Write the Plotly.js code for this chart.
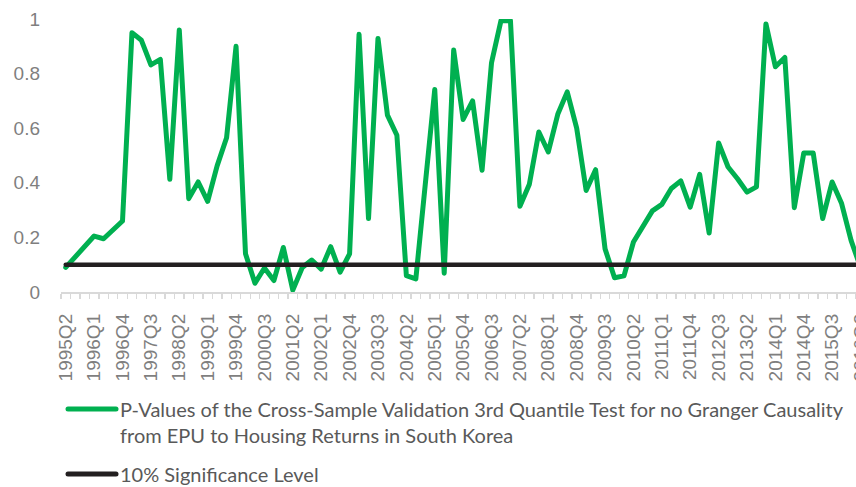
<!DOCTYPE html>
<html>
<head>
<meta charset="utf-8">
<script src="https://cdn.plot.ly/plotly-3.0.1.min.js"></script>
<style>
html, body { margin:0; padding:0; width:856px; height:487px; overflow:hidden; background:#fff; }
#chart { width:900px; height:487px; }
.js-line { stroke-linejoin: round; stroke-linecap: round; }
.shapelayer path { stroke-linecap: round; }
</style>
</head>
<body>
<div id="chart"></div>
<script>
const quarters = [
  '1995Q2','1995Q3','1995Q4','1996Q1','1996Q2','1996Q3','1996Q4',
  '1997Q1','1997Q2','1997Q3','1997Q4','1998Q1','1998Q2','1998Q3','1998Q4',
  '1999Q1','1999Q2','1999Q3','1999Q4','2000Q1','2000Q2','2000Q3','2000Q4',
  '2001Q1','2001Q2','2001Q3','2001Q4','2002Q1','2002Q2','2002Q3','2002Q4',
  '2003Q1','2003Q2','2003Q3','2003Q4','2004Q1','2004Q2','2004Q3','2004Q4',
  '2005Q1','2005Q2','2005Q3','2005Q4','2006Q1','2006Q2','2006Q3','2006Q4',
  '2007Q1','2007Q2','2007Q3','2007Q4','2008Q1','2008Q2','2008Q3','2008Q4',
  '2009Q1','2009Q2','2009Q3','2009Q4','2010Q1','2010Q2','2010Q3','2010Q4',
  '2011Q1','2011Q2','2011Q3','2011Q4','2012Q1','2012Q2','2012Q3','2012Q4',
  '2013Q1','2013Q2','2013Q3','2013Q4','2014Q1','2014Q2','2014Q3','2014Q4',
  '2015Q1','2015Q2','2015Q3','2015Q4','2016Q1','2016Q2'
];

const pValues = [
  0.09, 0.13, 0.168, 0.205, 0.195, 0.228, 0.26,
  0.95, 0.922, 0.832, 0.852, 0.413, 0.96, 0.342, 0.403,
  0.332, 0.462, 0.565, 0.90, 0.14, 0.032, 0.088, 0.042,
  0.163, 0.007, 0.09, 0.117, 0.084, 0.166, 0.073, 0.14,
  0.944, 0.269, 0.929, 0.648, 0.574, 0.06, 0.048, 0.40,
  0.742, 0.069, 0.886, 0.632, 0.70, 0.446, 0.84, 0.994,
  0.994, 0.314, 0.395, 0.586, 0.513, 0.651, 0.733, 0.60,
  0.372, 0.448, 0.158, 0.052, 0.059, 0.183, 0.238, 0.297,
  0.321, 0.379, 0.407, 0.311, 0.431, 0.216, 0.546, 0.458,
  0.415, 0.366, 0.385, 0.982, 0.825, 0.859, 0.309, 0.509,
  0.509, 0.269, 0.403, 0.324, 0.189, 0.09
];

const sigX = ['1995Q2', '2016Q2'];
const sigY = [0.1, 0.1];

const seriesNames = [
  'P-Values of the Cross-Sample Validation 3rd Quantile Test for no Granger Causality',
  'from EPU to Housing Returns in South Korea',
  '10% Significance Level'
];
const yTicks = [0, 0.2, 0.4, 0.6, 0.8, 1];

const GREEN = '#00B050';
const BLACK = '#231F20';
const TICK = '#7f7f7f';
const AXIS = '#d9d9d9';

const traces = [
  {
    x: quarters, y: pValues, type: 'scatter', mode: 'lines',
    line: { color: GREEN, width: 5 },
    xaxis: 'x', yaxis: 'y', name: seriesNames[0], showlegend: false,
    hoverinfo: 'x+y'
  },
  {
    x: sigX, y: sigY, type: 'scatter', mode: 'lines',
    line: { color: BLACK, width: 4.5 },
    xaxis: 'x2', yaxis: 'y', name: seriesNames[2], showlegend: false,
    hoverinfo: 'y'
  }
];

// plot area in pixels: left 61, right 900, top 19, bottom 292
const L = 61, R = 900, T = 19, B = 292;
const px = v => (v - L) / (R - L);
const py = v => (B - v) / (B - T);
const xr = [-0.5, -0.5 + (R - L) / 9.462];

const legendFont = { family: 'Lato, "Open Sans", sans-serif', size: 20, color: '#595959' };
const tickFont = { family: '"Liberation Sans", Arial, sans-serif', size: 19, color: TICK };

const layout = {
  width: 900, height: 487,
  margin: { l: L, r: 900 - R, t: T, b: 487 - B },
  paper_bgcolor: '#fff', plot_bgcolor: '#fff',
  showlegend: false,
  xaxis: {
    type: 'category', range: xr,
    categoryorder: 'array', categoryarray: quarters,
    tickmode: 'linear', tick0: 0, dtick: 3,
    tickangle: -90, ticks: '', showline: false, showgrid: false, zeroline: false,
    ticklabelstandoff: 17,
    tickfont: tickFont
  },
  xaxis2: {
    type: 'category', range: xr, overlaying: 'x', anchor: 'y',
    categoryorder: 'array', categoryarray: quarters,
    tickmode: 'linear', tick0: 0, dtick: 1,
    tickson: 'boundaries', ticks: 'outside', ticklen: 5, tickwidth: 1.3, tickcolor: AXIS,
    showticklabels: false, showline: true, linecolor: AXIS, linewidth: 1.5,
    showgrid: false, zeroline: false
  },
  yaxis: {
    range: [0, 1], tickmode: 'array', tickvals: yTicks,
    showgrid: false, zeroline: false, showline: false, ticks: '',
    ticklabelstandoff: 20,
    tickfont: tickFont
  },
  shapes: [
    { type: 'line', xref: 'paper', yref: 'paper', x0: px(68), x1: px(116), y0: py(409), y1: py(409),
      line: { color: GREEN, width: 5 } },
    { type: 'line', xref: 'paper', yref: 'paper', x0: px(68), x1: px(116), y0: py(474), y1: py(474),
      line: { color: BLACK, width: 5 } }
  ],
  annotations: [
    { xref: 'paper', yref: 'paper', x: px(118), y: py(409), xanchor: 'left', yanchor: 'middle',
      text: seriesNames[0], showarrow: false, font: legendFont, align: 'left' },
    { xref: 'paper', yref: 'paper', x: px(118), y: py(435), xanchor: 'left', yanchor: 'middle',
      text: seriesNames[1], showarrow: false, font: legendFont, align: 'left' },
    { xref: 'paper', yref: 'paper', x: px(118), y: py(474), xanchor: 'left', yanchor: 'middle',
      text: seriesNames[2], showarrow: false, font: legendFont, align: 'left' }
  ]
};

Plotly.newPlot('chart', traces, layout, { displayModeBar: false, staticPlot: true });
</script>
</body>
</html>
